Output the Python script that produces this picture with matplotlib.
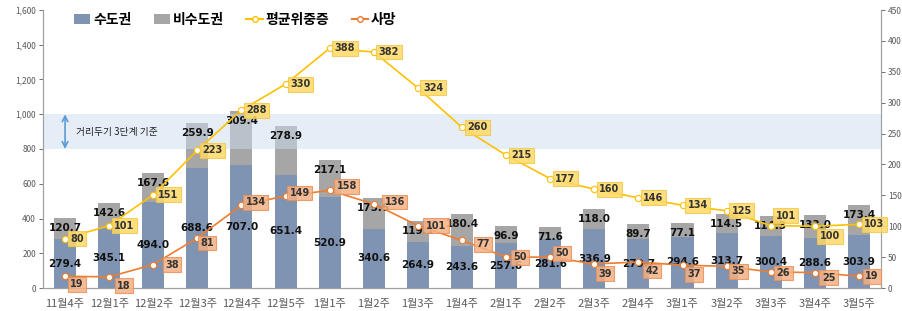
import numpy as np
import matplotlib
matplotlib.use('Agg')
import matplotlib.pyplot as plt
from matplotlib.patches import Patch, Rectangle
from matplotlib.lines import Line2D
from matplotlib import transforms

plt.rcParams['font.family'] = ['Noto Sans CJK KR', 'DejaVu Sans']

# data
weeks = ['11월4주', '12월1주', '12월2주', '12월3주', '12월4주', '12월5주',
         '1월1주', '1월2주', '1월3주', '1월4주',
         '2월1주', '2월2주', '2월3주', '2월4주',
         '3월1주', '3월2주', '3월3주', '3월4주', '3월5주']
capital = [279.4, 345.1, 494.0, 688.6, 707.0, 651.4, 520.9, 340.6, 264.9, 243.6,
           257.6, 281.6, 336.9, 279.7, 294.6, 313.7, 300.4, 288.6, 303.9]
non_capital = [120.7, 142.6, 167.6, 259.9, 309.4, 278.9, 217.1, 175.6, 119.1, 180.4,
               96.9, 71.6, 118.0, 89.7, 77.1, 114.5, 114.3, 133.0, 173.4]
severe = [80, 101, 151, 223, 288, 330, 388, 382, 324, 260,
          215, 177, 160, 146, 134, 125, 101, 100, 103]
deaths = [19, 18, 38, 81, 134, 149, 158, 136, 101, 77,
          50, 50, 39, 42, 37, 35, 26, 25, 19]

# label offsets (pixels, left edge / vertical)
severe_off = [(5, 0)] * 16 + [(5, 10), (5, -10), (5, 0)]
death_off = [(5, -8), (8, -9), (12, 0), (3, -5), (4, 3), (4, 3), (7, 4), (11, 2),
             (8, 0), (14, -4), (7, 0), (5, 4), (4, -10), (7, -9), (5, -9),
             (5, -5), (6, -1), (7, -5), (6, 0)]

c_cap = '#7F93B2'
c_non = '#A6A6A6'
c_yel = '#FFC000'
c_ora = '#ED7D31'

fig = plt.figure(figsize=(9.03, 3.11), dpi=100)
ax = fig.add_axes([43/903, 23/311, 838/903, 278/311])
ax2 = ax.twinx()

x = np.arange(len(weeks))
totals = np.array(capital) + np.array(non_capital)
ax.bar(x, capital, width=0.5, color=c_cap, zorder=2)
ax.bar(x, non_capital, width=0.5, bottom=capital, color=c_non, zorder=2)

ax.set_xlim(-0.5, len(weeks) - 0.5)
ax.set_ylim(0, 1600)
ax.set_yticks(range(0, 1601, 200))
ax.set_yticklabels(['{:,}'.format(v) for v in range(0, 1601, 200)])
ax.set_xticks(x)
ax.set_xticklabels(weeks)
ax2.set_ylim(0, 450)
ax2.set_yticks(range(0, 451, 50))

# shaded band for distancing level 3 (drawn over the bars)
trans = transforms.blended_transform_factory(ax2.transAxes, ax.transData)
band = Rectangle((0, 800), 1, 200, transform=trans, fc='#CDDFF1', ec='none',
                 alpha=0.5, zorder=1)
ax2.add_patch(band)
ax2.annotate('', xy=(0, 1000), xytext=(0, 800),
             xycoords=ax.transData, textcoords=ax.transData,
             arrowprops=dict(arrowstyle='<->', color='#5B9BD5', lw=1.2,
                             shrinkA=0, shrinkB=0), zorder=2)
ax2.text(0.25, 900, '거리두기 3단계 기준', transform=ax.transData, ha='left',
         va='center', fontsize=7, color='#222222', zorder=2)

# bar labels on top layer
for i in range(len(weeks)):
    ax2.text(x[i], capital[i] / 2, '%.1f' % capital[i], ha='center', va='center',
             fontsize=7.5, fontweight='bold', color='#111111', zorder=2,
             family='DejaVu Sans', transform=ax.transData)
    ax2.annotate('%.1f' % non_capital[i], (x[i], totals[i]), xycoords=ax.transData,
                 xytext=(0, -10), textcoords='offset pixels',
                 ha='center', va='center', fontsize=7.5, fontweight='bold',
                 color='#111111', zorder=2, family='DejaVu Sans')

ax2.plot(x, severe, color=c_yel, lw=1.2, marker='o', ms=4.5, mfc='white',
         mec=c_yel, mew=0.8, zorder=3)
ax2.plot(x, deaths, color=c_ora, lw=1.2, marker='o', ms=4.5, mfc='white',
         mec=c_ora, mew=0.8, zorder=3)

for i in range(len(weeks)):
    ax2.annotate(str(severe[i]), (x[i], severe[i]), xytext=severe_off[i],
                 textcoords='offset pixels', ha='left', va='center',
                 fontsize=7, fontweight='bold', color='#333333', zorder=6,
                 family='DejaVu Sans',
                 bbox=dict(boxstyle='square,pad=0.25', fc='#FFD966', ec='#F2C94C',
                           lw=0.8, alpha=0.85))
    ax2.annotate(str(deaths[i]), (x[i], deaths[i]), xytext=death_off[i],
                 textcoords='offset pixels', ha='left', va='center',
                 fontsize=7, fontweight='bold', color='#333333', zorder=6,
                 family='DejaVu Sans',
                 bbox=dict(boxstyle='square,pad=0.25', fc='#F4B183', ec='#E8915A',
                           lw=0.8, alpha=0.85))

for a in (ax, ax2):
    a.spines['top'].set_visible(False)
    for s in ('left', 'right', 'bottom'):
        a.spines[s].set_color('#A0A0A0')
        a.spines[s].set_linewidth(0.8)
ax.tick_params(axis='y', labelsize=6, colors='#595959', length=3, width=0.6, pad=2)
ax.tick_params(axis='x', labelsize=8, colors='#595959', length=0, pad=8)
ax2.tick_params(axis='y', labelsize=6, colors='#595959', length=3, width=0.6, pad=2)

handles = [Patch(fc=c_cap), Patch(fc=c_non),
           Line2D([], [], color=c_yel, marker='o', mfc='white', mec=c_yel, ms=4),
           Line2D([], [], color=c_ora, marker='o', mfc='white', mec=c_ora, ms=4)]
ax2.legend(handles, ['수도권', '비수도권', '평균위중증', '사망'], ncol=4,
           loc='center left', bbox_to_anchor=(0.03, 0.965), frameon=False,
           prop={'size': 10, 'weight': 'bold'}, handlelength=1.2,
           handletextpad=0.2, columnspacing=1.6, borderaxespad=0)

fig.savefig('out.png', dpi=100)
